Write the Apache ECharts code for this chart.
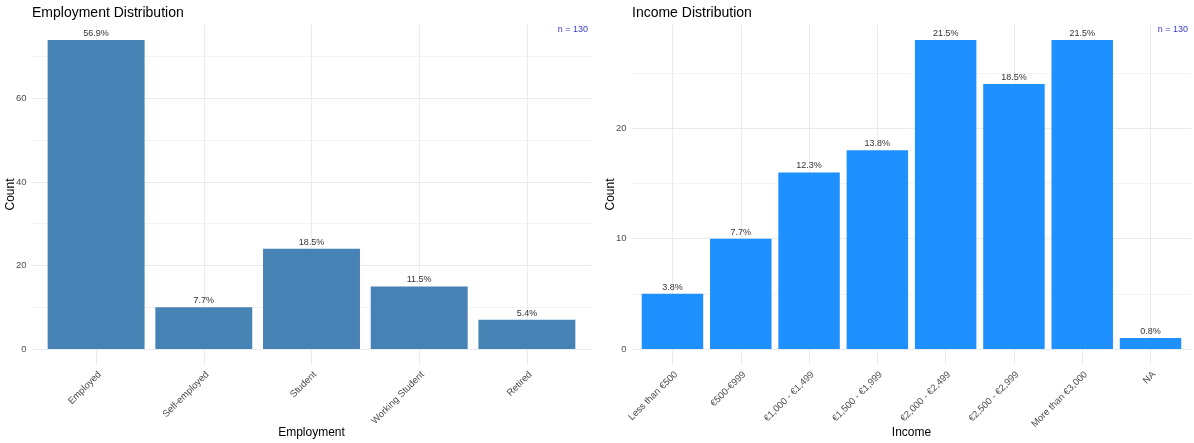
<!DOCTYPE html>
<html>
<head>
<meta charset="utf-8">
<script src="https://cdn.jsdelivr.net/npm/echarts@6/dist/echarts.min.js"></script>
<style>
  html, body { margin: 0; padding: 0; background: #fff; }
  #chart { width: 1194px; height: 443px; }
</style>
</head>
<body>
<div id="chart"></div>
<script>
// Survey sample
const sampleSize = 130;

// Employment status counts
const employmentCategories = ['Employed', 'Self-employed', 'Student', 'Working Student', 'Retired'];
const employmentCounts = [74, 10, 24, 15, 7];
const employmentMajorTicks = [0, 20, 40, 60];
const employmentMinorTicks = [10, 30, 50, 70];

// Monthly income counts
const incomeCategories = ['Less than €500', '€500-€999', '€1,000 - €1,499', '€1,500 - €1,999',
  '€2,000 - €2,499', '€2,500 - €2,999', 'More than €3,000', 'NA'];
const incomeCounts = [5, 10, 16, 18, 28, 24, 28, 1];
const incomeMajorTicks = [0, 10, 20];
const incomeMinorTicks = [5, 15, 25];

const FONT = '"Liberation Sans", Arial, sans-serif';
const GRID_MAJOR = '#EBEBEB';
const GRID_MINOR = '#F3F3F3';
const TICK_TEXT = '#4D4D4D';

const range = (n) => Array.from({ length: n }, (_, i) => i);
const pct = (v) => (v / sampleSize * 100).toFixed(1) + '%';

// Discrete axis padded by 0.6 of a band on each side, continuous axis by 5% of the data range
function panelAxes(gridIndex, categories, counts, major, minor, xName) {
  const idx = range(categories.length);
  const maxVal = Math.max(...counts);
  const yMin = -maxVal * 0.05, yMax = maxVal * 1.05;
  const x = {
    type: 'value', gridIndex, min: -0.6, max: categories.length - 1 + 0.6,
    axisLine: { show: false },
    axisTick: { show: false, customValues: idx },
    axisLabel: {
      customValues: idx, formatter: (v) => categories[Math.round(v)],
      rotate: 45, margin: 5, verticalAlign: 'top',
      color: TICK_TEXT, fontSize: 9.5, fontFamily: FONT
    },
    splitLine: { show: true, lineStyle: { color: GRID_MAJOR, width: 1 } },
    name: xName, nameLocation: 'middle', nameGap: 62, nameMoveOverlap: false,
    nameTextStyle: { fontSize: 12, color: '#000', fontFamily: FONT }
  };
  const yMajor = {
    type: 'value', gridIndex, min: yMin, max: yMax, position: 'left',
    axisLine: { show: false },
    axisTick: { show: false, customValues: major },
    axisLabel: { customValues: major, margin: 5, color: TICK_TEXT, fontSize: 9.5, fontFamily: FONT },
    splitLine: { show: true, lineStyle: { color: GRID_MAJOR, width: 1 } },
    name: 'Count', nameLocation: 'middle', nameRotate: 90, nameGap: 15, nameMoveOverlap: false,
    nameTextStyle: { fontSize: 12, color: '#000', fontFamily: FONT }
  };
  const yMinor = {
    type: 'value', gridIndex, min: yMin, max: yMax, position: 'right',
    axisLine: { show: false },
    axisTick: { show: false, customValues: minor },
    axisLabel: { show: false, customValues: minor },
    splitLine: { show: true, lineStyle: { color: GRID_MINOR, width: 1 } }
  };
  return { x, yMajor, yMinor };
}

const emp = panelAxes(0, employmentCategories, employmentCounts, employmentMajorTicks, employmentMinorTicks, 'Employment');
const inc = panelAxes(1, incomeCategories, incomeCounts, incomeMajorTicks, incomeMinorTicks, 'Income');

function barSeries(xAxisIndex, yAxisIndex, counts, color) {
  return {
    type: 'bar', xAxisIndex, yAxisIndex,
    data: counts.map((v, i) => [i, v]),
    barWidth: '90%',
    itemStyle: { color },
    label: {
      show: true, position: 'top', distance: 2,
      fontSize: 9, color: '#333', fontFamily: FONT,
      formatter: (p) => pct(p.value[1])
    }
  };
}

const titleStyle = { fontSize: 14, fontWeight: 'normal', color: '#000', fontFamily: FONT };
const nStyle = { fontSize: 9, fontWeight: 'normal', color: '#3B3BCB', fontFamily: FONT };

const chart = echarts.init(document.getElementById('chart'), null, { renderer: 'canvas' });
chart.setOption({
  animation: false,
  backgroundColor: '#fff',
  textStyle: { fontFamily: FONT },
  title: [
    { text: 'Employment Distribution', left: 32, top: 6, padding: 0, textStyle: titleStyle },
    { text: 'Income Distribution', left: 632, top: 6, padding: 0, textStyle: titleStyle },
    { text: 'n = ' + sampleSize, right: 606, top: 25, padding: 0, textStyle: nStyle },
    { text: 'n = ' + sampleSize, right: 6, top: 25, padding: 0, textStyle: nStyle }
  ],
  grid: [
    { left: 31.5, top: 24.5, width: 560, height: 340, outerBoundsMode: 'none', containLabel: false },
    { left: 631.5, top: 24.5, width: 560, height: 340, outerBoundsMode: 'none', containLabel: false }
  ],
  xAxis: [emp.x, inc.x],
  yAxis: [emp.yMajor, emp.yMinor, inc.yMajor, inc.yMinor],
  series: [
    barSeries(0, 0, employmentCounts, '#4682B4'),
    barSeries(1, 2, incomeCounts, '#1E90FF')
  ]
});
</script>
</body>
</html>
